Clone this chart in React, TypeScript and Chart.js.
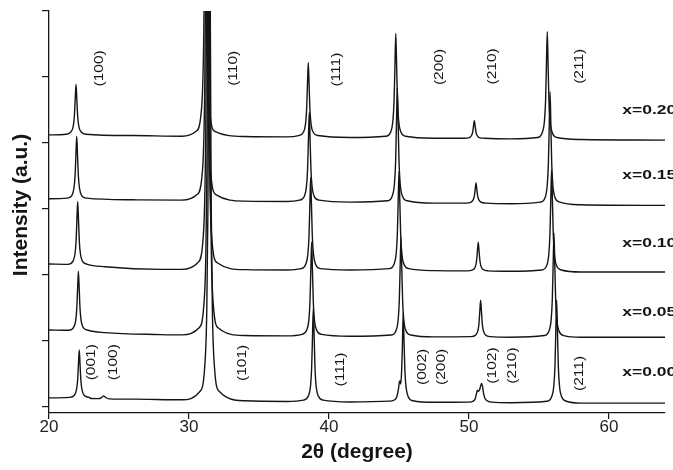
import { useEffect, useRef } from "react";
import { Chart, registerables } from "chart.js";
Chart.register(...registerables);

type Pt = [number, number];

const X_TICKS = [20, 30, 40, 50, 60];
const Y_TICKS = [0, 1, 2, 3, 4, 5, 6];

const SERIES_NAMES = ["x=0.200", "x=0.150", "x=0.100", "x=0.050", "x=0.000"];
const SERIES_LABEL_Y = [4.5, 3.5, 2.48, 1.43, 0.52];
const SERIES_LABEL_X = 60.95;

const trace200: Pt[] = [
  [20,4.12],
  [21.23,4.13],[21.58,4.17],[21.73,4.25],[21.81,4.40],[21.87,4.65],[21.93,4.89],[21.99,4.65],[22.05,4.40],[22.13,4.25],[22.28,4.17],[22.63,4.13],
  [26,4.11],[29.5,4.10],
  [30.48,4.17],[30.83,4.38],[30.98,4.87],[31.06,5.72],[31.12,7.2],[31.18,8.6],[31.24,7.2],[31.30,5.72],[31.38,4.87],[31.53,4.38],[31.88,4.17],
  [34,4.095],[37,4.09],
  [37.82,4.11],[38.17,4.16],[38.32,4.28],[38.40,4.50],[38.46,4.87],[38.52,5.22],[38.58,4.87],[38.64,4.50],[38.72,4.28],[38.87,4.16],[39.22,4.11],
  [41.5,4.08],
  [44.07,4.10],[44.42,4.17],[44.57,4.35],[44.65,4.65],[44.71,5.17],[44.77,5.66],[44.83,5.17],[44.89,4.65],[44.97,4.35],[45.12,4.17],[45.47,4.10],
  [47.5,4.07],
  [49.68,4.07],[50.03,4.08],[50.18,4.11],[50.26,4.16],[50.32,4.25],[50.38,4.335],[50.44,4.25],[50.50,4.16],[50.58,4.11],[50.73,4.08],[51.08,4.07],
  [53,4.06],
  [54.89,4.08],[55.24,4.16],[55.39,4.33],[55.47,4.64],[55.53,5.18],[55.59,5.685],[55.65,5.18],[55.71,4.64],[55.79,4.33],[55.94,4.16],[56.29,4.08],
  [58,4.05],[64,4.04],
];

const trace150: Pt[] = [
  [20,3.15],
  [21.28,3.16],[21.63,3.20],[21.78,3.31],[21.86,3.49],[21.92,3.80],[21.98,4.10],[22.04,3.80],[22.10,3.49],[22.18,3.31],[22.33,3.20],[22.68,3.16],
  [26,3.135],[29.5,3.13],
  [30.55,3.21],[30.90,3.44],[31.05,3.98],[31.13,4.93],[31.19,6.58],[31.25,8.13],[31.31,6.58],[31.37,4.93],[31.45,3.98],[31.60,3.44],[31.95,3.21],
  [34,3.115],[37,3.11],
  [37.89,3.13],[38.24,3.19],[38.39,3.34],[38.47,3.60],[38.53,4.04],[38.59,4.46],[38.65,4.04],[38.71,3.60],[38.79,3.34],[38.94,3.19],[39.29,3.13],
  [41.5,3.10],
  [44.18,3.12],[44.53,3.20],[44.68,3.39],[44.76,3.72],[44.82,4.30],[44.88,4.84],[44.94,4.30],[45.00,3.72],[45.08,3.39],[45.23,3.20],[45.58,3.12],
  [47.5,3.085],
  [49.80,3.085],[50.15,3.10],[50.30,3.135],[50.38,3.19],[50.44,3.29],[50.50,3.39],[50.56,3.29],[50.62,3.19],[50.70,3.135],[50.85,3.10],[51.20,3.085],
  [53,3.075],
  [55.09,3.10],[55.44,3.17],[55.59,3.36],[55.67,3.68],[55.73,4.24],[55.79,4.77],[55.85,4.24],[55.91,3.68],[55.99,3.36],[56.14,3.17],[56.49,3.10],
  [58,3.06],[64,3.05],
];

const trace100: Pt[] = [
  [20,2.16],
  [21.35,2.156],[21.70,2.20],[21.85,2.305],[21.93,2.49],[21.99,2.81],[22.05,3.11],[22.11,2.81],[22.17,2.49],[22.25,2.305],[22.40,2.20],[22.75,2.156],
  [24,2.12],[28,2.08],[29.5,2.08],
  [30.62,2.18],[30.97,2.45],[31.12,3.10],[31.20,4.24],[31.26,6.22],[31.32,8.08],[31.38,6.22],[31.44,4.24],[31.52,3.10],[31.67,2.45],[32.02,2.18],
  [34,2.075],[37,2.07],
  [37.99,2.09],[38.34,2.157],[38.49,2.31],[38.57,2.57],[38.63,3.04],[38.69,3.47],[38.75,3.04],[38.81,2.57],[38.89,2.31],[39.04,2.157],[39.39,2.09],
  [41.5,2.07],
  [44.30,2.09],[44.65,2.16],[44.80,2.32],[44.88,2.605],[44.94,3.10],[45.00,3.565],[45.06,3.10],[45.12,2.605],[45.20,2.32],[45.35,2.16],[45.70,2.09],
  [47.5,2.06],
  [49.96,2.057],[50.31,2.077],[50.46,2.125],[50.54,2.21],[50.60,2.35],[50.66,2.49],[50.72,2.35],[50.78,2.21],[50.86,2.125],[51.01,2.077],[51.36,2.057],
  [53,2.05],
  [55.20,2.07],[55.55,2.14],[55.70,2.305],[55.78,2.605],[55.84,3.115],[55.90,3.595],[55.96,3.115],[56.02,2.605],[56.10,2.305],[56.25,2.14],[56.60,2.07],
  [58,2.04],[64,2.04],
];

const trace050: Pt[] = [
  [20,1.16],
  [21.40,1.155],[21.75,1.196],[21.90,1.295],[21.98,1.47],[22.04,1.77],[22.10,2.05],[22.16,1.77],[22.22,1.47],[22.30,1.295],[22.45,1.196],[22.80,1.155],
  [24,1.12],[28,1.09],[29.5,1.085],
  [30.70,1.19],[31.05,1.51],[31.20,2.27],[31.28,3.60],[31.34,5.91],[31.40,8.08],[31.46,5.91],[31.52,3.60],[31.60,2.27],[31.75,1.51],[32.10,1.19],
  [34,1.075],[37,1.07],
  [38.06,1.093],[38.41,1.158],[38.56,1.31],[38.64,1.58],[38.70,2.05],[38.76,2.49],[38.82,2.05],[38.88,1.58],[38.96,1.31],[39.11,1.158],[39.46,1.093],
  [41.5,1.065],
  [44.44,1.084],[44.79,1.153],[44.94,1.315],[45.02,1.60],[45.08,2.095],[45.14,2.56],[45.20,2.095],[45.26,1.60],[45.34,1.315],[45.49,1.153],[45.84,1.084],
  [47.5,1.055],
  [50.13,1.059],[50.48,1.085],[50.63,1.145],[50.71,1.25],[50.77,1.44],[50.83,1.61],[50.89,1.44],[50.95,1.25],[51.03,1.145],[51.18,1.085],[51.53,1.059],
  [53,1.05],
  [55.37,1.075],[55.72,1.148],[55.87,1.32],[55.95,1.62],[56.01,2.14],[56.07,2.63],[56.13,2.14],[56.19,1.62],[56.27,1.32],[56.42,1.148],[56.77,1.075],
  [58,1.05],[64,1.05],
];

const trace000: Pt[] = [
  [20,0.13],
  [21.46,0.137],[21.81,0.17],[21.96,0.25],[22.04,0.385],[22.10,0.625],[22.16,0.855],[22.22,0.625],[22.28,0.385],[22.36,0.25],[22.51,0.17],[22.86,0.137],
  [23,0.12],
  [23.5,0.118],[23.75,0.135],[23.9,0.16],[24.05,0.135],[24.3,0.115],
  [26,0.11],[29.5,0.10],
  [30.77,0.225],[31.12,0.595],[31.27,1.455],[31.35,2.975],[31.41,5.615],[31.47,8.1],[31.53,5.615],[31.59,2.975],[31.67,1.455],[31.82,0.595],[32.17,0.225],
  [34,0.085],[37,0.075],
  [38.18,0.095],[38.53,0.16],[38.68,0.31],[38.76,0.58],[38.82,1.05],[38.88,1.49],[38.94,1.05],[39.00,0.58],[39.08,0.31],[39.23,0.16],[39.58,0.095],
  [41.5,0.068],
  [44.35,0.08],[44.7,0.10],[44.85,0.15],[44.95,0.25],[45.02,0.36],[45.07,0.39],[45.12,0.34],[45.18,0.5],[45.24,0.9],[45.3,1.42],[45.36,0.98],[45.42,0.55],[45.5,0.3],[45.65,0.15],[46.0,0.085],
  [47.5,0.062],
  [50.0,0.065],[50.3,0.08],[50.45,0.12],[50.55,0.21],[50.6,0.245],[50.67,0.23],[50.75,0.25],[50.83,0.31],[50.9,0.35],[50.97,0.3],[51.04,0.2],[51.12,0.13],[51.27,0.09],[51.6,0.065],
  [53,0.056],
  [55.56,0.078],[55.91,0.15],[56.06,0.318],[56.14,0.613],[56.20,1.133],[56.26,1.613],[56.32,1.133],[56.38,0.613],[56.46,0.318],[56.61,0.15],[56.96,0.078],
  [58,0.05],[64,0.05],
];

const TRACES = [trace200, trace150, trace100, trace050, trace000];

const TOP_HKL = ["(100)", "(110)", "(111)", "(200)", "(210)", "(211)"];
const TOP_HKL_X = [23.64, 33.2, 40.5, 47.86, 51.68, 57.86];
const TOP_HKL_Y = [5.13, 5.13, 5.11, 5.15, 5.16, 5.16];

const BOTTOM_HKL = ["(001)", "(100)", "(101)", "(111)", "(002)", "(200)", "(102)", "(210)", "(211)"];
const BOTTOM_HKL_X = [23.04, 24.6, 33.82, 40.82, 46.68, 48.0, 51.68, 53.1, 57.86];
const BOTTOM_HKL_Y = [0.67, 0.67, 0.66, 0.56, 0.6, 0.6, 0.62, 0.62, 0.5];

const X_TITLE = "2θ (degree)";
const Y_TITLE = "Intensity (a.u.)";

const FONT = "'Liberation Sans', Arial, Helvetica, sans-serif";
const INK = "#151515";

const textPlugin = {
  id: "xrdText",
  afterDraw(chart: any) {
    const ctx = chart.ctx as CanvasRenderingContext2D;
    const xs = chart.scales.x;
    const ys = chart.scales.y;
    ctx.save();
    ctx.fillStyle = INK;

    const drawRot = (t: string, x: number, y: number) => {
      ctx.save();
      ctx.translate(xs.getPixelForValue(x), ys.getPixelForValue(y));
      ctx.rotate(-Math.PI / 2);
      ctx.scale(1, 0.82);
      ctx.font = `15.5px ${FONT}`;
      ctx.textAlign = "center";
      ctx.textBaseline = "middle";
      ctx.fillText(t, 0, 0);
      ctx.restore();
    };
    TOP_HKL.forEach((t, i) => drawRot(t, TOP_HKL_X[i], TOP_HKL_Y[i]));
    BOTTOM_HKL.forEach((t, i) => drawRot(t, BOTTOM_HKL_X[i], BOTTOM_HKL_Y[i]));

    SERIES_NAMES.forEach((t, i) => {
      ctx.save();
      ctx.translate(xs.getPixelForValue(SERIES_LABEL_X), ys.getPixelForValue(SERIES_LABEL_Y[i]));
      ctx.scale(1, 0.76);
      ctx.font = `bold 17.5px ${FONT}`;
      ctx.textAlign = "left";
      ctx.textBaseline = "middle";
      ctx.fillText(t, 0, 0);
      ctx.restore();
    });

    const ca = chart.chartArea;
    ctx.font = `bold 21px ${FONT}`;
    ctx.textAlign = "center";
    ctx.textBaseline = "middle";
    ctx.fillText(X_TITLE, (ca.left + ca.right) / 2, 452);
    ctx.save();
    ctx.translate(21, 205);
    ctx.rotate(-Math.PI / 2);
    ctx.fillText(Y_TITLE, 0, 0);
    ctx.restore();

    ctx.restore();
  },
};

export default function App() {
  const ref = useRef<HTMLCanvasElement | null>(null);

  useEffect(() => {
    if (!ref.current) return;
    const chart = new Chart(ref.current, {
      type: "line",
      data: {
        datasets: TRACES.map((tr, i) => ({
          label: SERIES_NAMES[i],
          data: tr.map(([x, y]) => ({ x, y })),
          borderColor: INK,
          borderWidth: 1.4,
          pointRadius: 0,
          cubicInterpolationMode: "monotone" as const,
          fill: false,
        })),
      },
      options: {
        animation: false,
        responsive: false,
        maintainAspectRatio: false,
        layout: { padding: { top: 11, right: 8, left: 0, bottom: 0 } },
        plugins: {
          legend: { display: false },
          tooltip: { enabled: false },
          title: { display: false },
        },
        scales: {
          x: {
            type: "linear",
            min: 20,
            max: 64,
            afterBuildTicks: (s: any) => {
              s.ticks = X_TICKS.map((v) => ({ value: v }));
            },
            afterFit: (s: any) => {
              s.height = 57;
            },
            grid: {
              drawOnChartArea: false,
              drawTicks: true,
              tickLength: 6,
              color: INK,
              lineWidth: 1.2,
            },
            border: { display: true, color: INK, width: 1.3 },
            ticks: {
              color: "#222",
              font: { size: 17, family: FONT },
              padding: -2,
              maxRotation: 0,
            },
          },
          y: {
            type: "linear",
            min: -0.1,
            max: 6,
            afterBuildTicks: (s: any) => {
              s.ticks = Y_TICKS.map((v) => ({ value: v }));
            },
            afterFit: (s: any) => {
              s.width = 49;
            },
            grid: {
              drawOnChartArea: false,
              drawTicks: true,
              tickLength: 7,
              color: INK,
              lineWidth: 1.2,
            },
            border: { display: true, color: INK, width: 1.3 },
            ticks: { display: false },
          },
        },
      },
      plugins: [textPlugin],
    });
    return () => chart.destroy();
  }, []);

  return (
    <div style={{ position: "absolute", left: 0, top: 0, width: 673, height: 470, background: "#fff" }}>
      <canvas ref={ref} width={673} height={470} style={{ display: "block", width: 673, height: 470 }} />
    </div>
  );
}
